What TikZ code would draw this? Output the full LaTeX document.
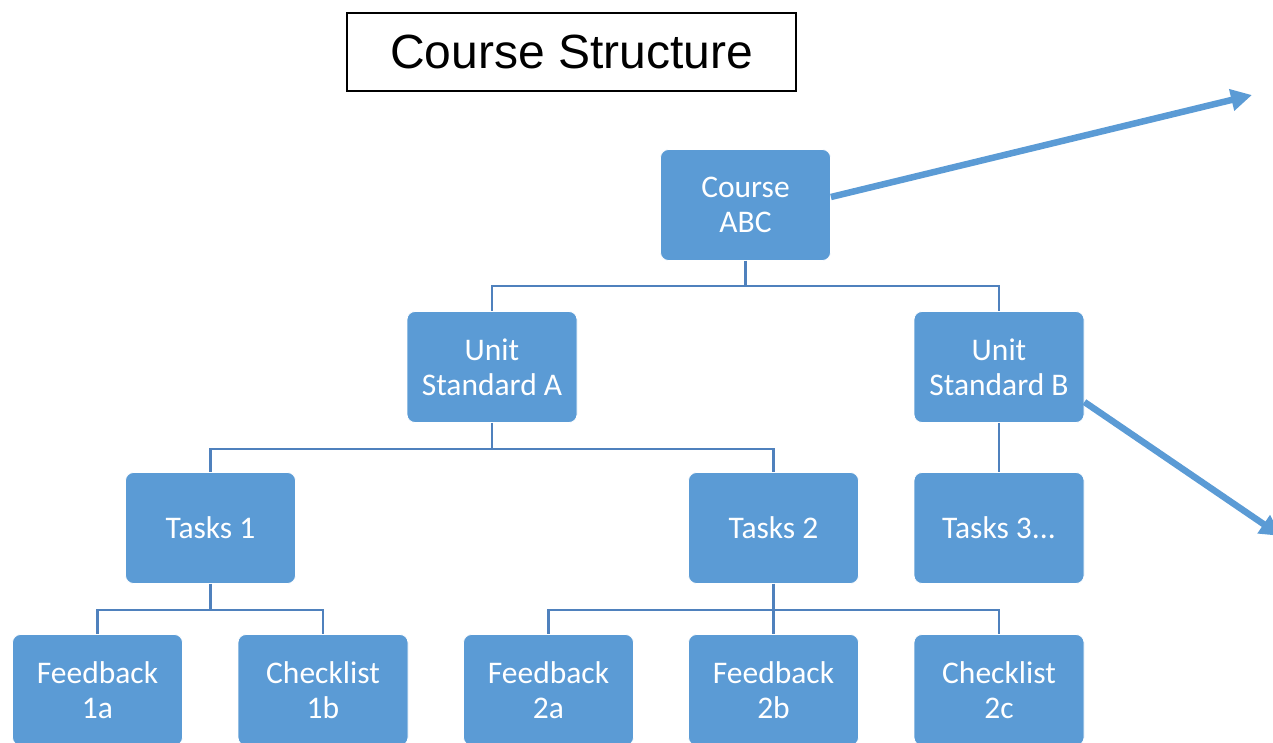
\documentclass[tikz,border=0pt]{standalone}
\usepackage{fontspec}
\setmainfont{Carlito}
\newfontfamily\titlefont{Liberation Sans}
\usetikzlibrary{arrows.meta}
\definecolor{boxblue}{HTML}{5B9BD5}
\definecolor{linkblue}{HTML}{4F81BD}
\tikzset{
  card/.style={rectangle, rounded corners=8pt, fill=boxblue, draw=white, line width=0.8pt,
    minimum width=170pt, minimum height=111pt, text=white, align=center,
    font=\fontsize{31.5}{35}\selectfont, inner sep=0pt},
  link/.style={draw=linkblue, line width=2.8pt},
  pointer/.style={draw=boxblue, line width=6.5pt, -{Triangle[length=21pt,width=21pt]}}
}
\begin{document}
\begin{tikzpicture}[x=1pt,y=-1pt]
\useasboundingbox (0,0) rectangle (1273,743);
\clip (0,0) rectangle (1273,743);

% title
\node[draw=black, line width=1.5pt, minimum width=449pt, minimum height=78pt, inner sep=0pt,
  font=\titlefont\fontsize{48}{56}\selectfont] (title) at (571.5,52) {Course Structure};

% hierarchy boxes
\node[card] (course) at (745.5,205) {Course\\ABC};
\node[card] (ua) at (492,367) {Unit\\Standard A};
\node[card] (ub) at (999,367) {Unit\\Standard B};
\node[card] (t1) at (210.5,528) {Tasks 1};
\node[card] (t2) at (773.5,528) {Tasks 2};
\node[card] (t3) at (999,528) {Tasks 3...};
\node[card] (f1a) at (97.5,690) {Feedback\\1a};
\node[card] (c1b) at (323,690) {Checklist\\1b};
\node[card] (f2a) at (548.5,690) {Feedback\\2a};
\node[card] (f2b) at (773.5,690) {Feedback\\2b};
\node[card] (c2c) at (999,690) {Checklist\\2c};

% tree connectors
\draw[link] (course.south) -- ++(0,25) -| (ua.north);
\draw[link] (course.south) -- ++(0,25) -| (ub.north);
\draw[link] (ua.south) -- ++(0,26) -| (t1.north);
\draw[link] (ua.south) -- ++(0,26) -| (t2.north);
\draw[link] (ub.south) -- (t3.north);
\draw[link] (t1.south) -- ++(0,26) -| (f1a.north);
\draw[link] (t1.south) -- ++(0,26) -| (c1b.north);
\draw[link] (t2.south) -- ++(0,26) -| (f2a.north);
\draw[link] (t2.south) -- (f2b.north);
\draw[link] (t2.south) -- ++(0,26) -| (c2c.north);

% outgoing arrows
\coordinate (outA) at (1252,95);
\coordinate (outB) at (1281,536);
\draw[pointer] ([yshift=8pt]course.east) -- (outA);
\draw[pointer] ([yshift=-35pt]ub.east) -- (outB);
\end{tikzpicture}
\end{document}
